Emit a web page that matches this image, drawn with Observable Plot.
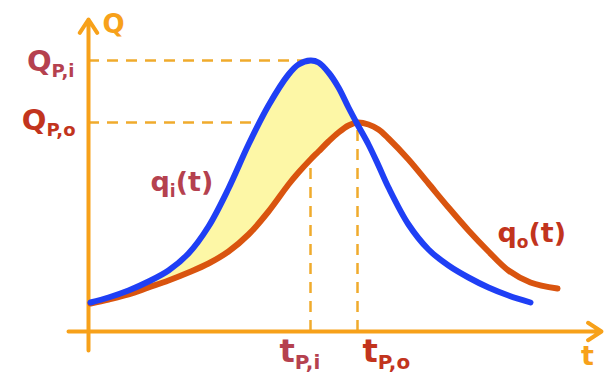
<!DOCTYPE html>
<html>
<head>
<meta charset="utf-8">
<script src="https://cdn.jsdelivr.net/npm/d3@7"></script>
<script src="https://cdn.jsdelivr.net/npm/@observablehq/plot@0.6"></script>
<style>
  html, body { margin: 0; padding: 0; background: #fff; overflow: hidden; }
  #chart svg { display: block; }
</style>
</head>
<body>
<div id="chart"></div>
<script>
// Reservoir routing: inflow and outflow hydrographs (arbitrary units)
const time    = [0.1, 1, 2, 3, 4, 5, 6, 7, 8, 9, 10, 10.5, 11.1, 11.5, 12, 12.5, 13, 13.45, 14, 14.5, 15, 16, 17, 18, 19, 20, 21, 22.1, 23.45];
const inflow  = [1.45, 1.7, 2.05, 2.5, 3.05, 3.9, 5.25, 7.15, 9.35, 11.3, 12.85, 13.35, 13.55, 13.45, 12.95, 12.2, 11.2, 10.35, 9.35, 8.3, 7.2, 5.35, 4.1, 3.3, 2.7, 2.2, 1.8, 1.45, null];
const outflow = [1.4, 1.6, 1.85, 2.2, 2.55, 2.95, 3.4, 4.0, 4.85, 6.0, 7.35, 7.95, 8.6, 9.0, 9.5, 9.95, 10.3, 10.45, 10.35, 10.1, 9.65, 8.6, 7.4, 6.2, 5.05, 4.0, 3.05, 2.45, 2.15];

const rows = time.map((t, i) => ({t, qi: inflow[i], qo: outflow[i]}));
const inRows = rows.filter(d => d.qi != null);

// Peaks of both hydrographs
const peakIn = d3.greatest(inRows, d => d.qi);
const peakOut = d3.greatest(rows, d => d.qo);
const tPi = peakIn.t, QPi = peakIn.qi;
const tPo = peakOut.t, QPo = peakOut.qo;

const axisColor = "#f7a11a";
const guideColor = "#f0ab2c";
const inColor = "#b5414f";
const outColor = "#c2341d";
const dash = {stroke: guideColor, strokeWidth: 2.5, strokeDasharray: "11,8"};
const label = {fontWeight: "bold"};

const chart = Plot.plot({
  width: 605,
  height: 373,
  margin: 0,
  x: {domain: [-4.4, 25.85], range: [0, 605], axis: null},
  y: {domain: [-2.1, 16.55], range: [373, 0], axis: null},
  style: {fontFamily: "'DejaVu Sans', sans-serif", background: "#fff"},
  marks: [
    // peak guide lines
    Plot.ruleY([QPi], {x1: 0, x2: tPi, ...dash}),
    Plot.ruleY([QPo], {x1: 0, x2: tPo, ...dash}),
    Plot.ruleX([tPi], {y1: 0, y2: QPi, ...dash}),
    Plot.ruleX([tPo], {y1: 0, y2: QPo, ...dash}),
    // storage: inflow above outflow, up to the outflow peak
    Plot.areaY(rows.filter(d => d.t <= tPo), {x: "t", y1: "qo", y2: "qi", fill: "#fdf7a6", curve: "catmull-rom"}),
    // axes with arrow heads
    Plot.arrow([0], {x1: -1, x2: 25.65, y1: 0, y2: 0, stroke: axisColor, strokeWidth: 4, headLength: 6, headAngle: 66}),
    Plot.arrow([0], {x1: 0, x2: 0, y1: -0.95, y2: 15.6, stroke: axisColor, strokeWidth: 4, headLength: 6, headAngle: 66}),
    // hydrographs
    Plot.line(rows, {x: "t", y: "qo", stroke: "#d9540f", strokeWidth: 6, curve: "catmull-rom"}),
    Plot.line(inRows, {x: "t", y: "qi", stroke: "#1f3ff5", strokeWidth: 6, curve: "catmull-rom"}),
    // axis names
    Plot.text(["Q"], {x: 0, y: 15.6, dx: 14, dy: 5, textAnchor: "start", fontSize: 26, fill: axisColor, ...label}),
    Plot.text(["t"], {x: 24.95, y: 0, dy: 25, textAnchor: "middle", fontSize: 27, fill: axisColor, ...label}),
    // peak labels
    Plot.text(["Q{P,i}"], {x: 0, y: QPi, dx: -14, dy: 1, textAnchor: "end", fontSize: 29, fill: inColor, ...label}),
    Plot.text(["Q{P,o}"], {x: 0, y: QPo, dx: -13, dy: -2, textAnchor: "end", fontSize: 29, fill: outColor, ...label}),
    Plot.text(["t{P,i}"], {x: tPi, y: 0, dx: -31, dy: 20, textAnchor: "start", fontSize: 32, fill: inColor, ...label}),
    Plot.text(["t{P,o}"], {x: tPo, y: 0, dx: 5, dy: 20, textAnchor: "start", fontSize: 32, fill: outColor, ...label}),
    // curve labels
    Plot.text(["q{i}(t)"], {x: 3.1, y: 7.48, textAnchor: "start", fontSize: 27, fill: inColor, ...label}),
    Plot.text(["q{o}(t)"], {x: 20.45, y: 4.93, textAnchor: "start", fontSize: 27, fill: outColor, ...label})
  ]
});

document.getElementById("chart").appendChild(chart);

// Turn {…} segments into subscripts
const SVGNS = "http://www.w3.org/2000/svg";
chart.querySelectorAll("text").forEach(node => {
  const s = node.textContent;
  if (!s.includes("{")) return;
  const size = parseFloat(getComputedStyle(node).fontSize);
  const subSize = Math.round(size * 0.62);
  const shift = Math.round(size * 0.22);
  node.textContent = "";
  let lowered = false;
  for (const part of s.split(/(\{[^}]*\})/).filter(Boolean)) {
    const span = document.createElementNS(SVGNS, "tspan");
    if (part.startsWith("{")) {
      span.textContent = part.slice(1, -1);
      span.setAttribute("font-size", subSize);
      span.setAttribute("dy", shift);
      lowered = true;
    } else {
      span.textContent = part;
      if (lowered) { span.setAttribute("dy", -shift); lowered = false; }
    }
    node.appendChild(span);
  }
});
</script>
</body>
</html>
